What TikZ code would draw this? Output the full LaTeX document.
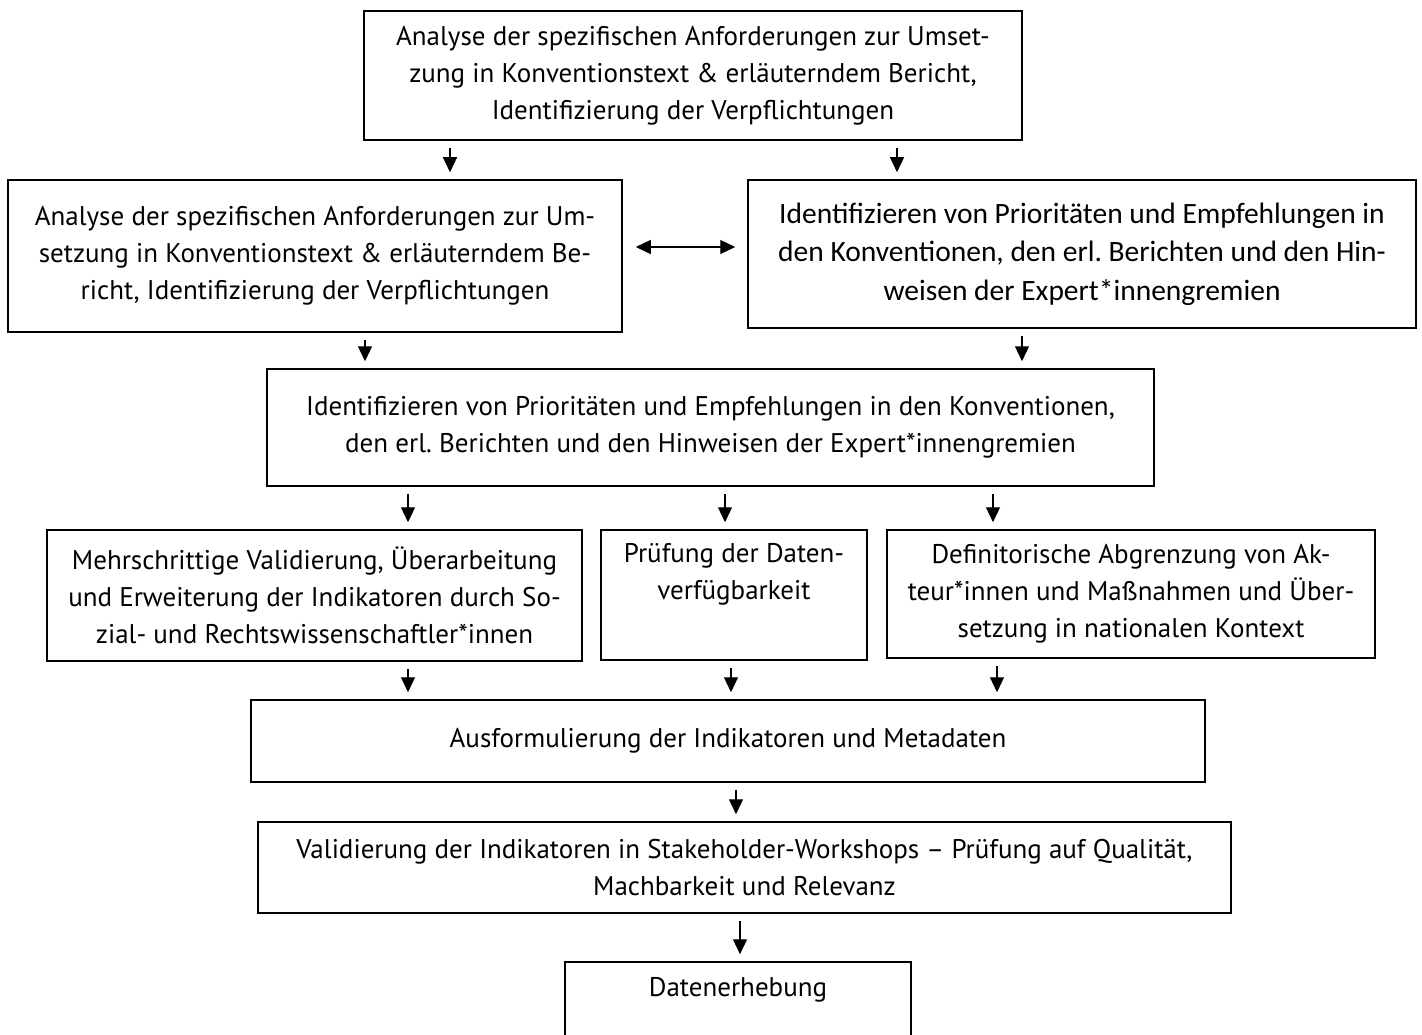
\documentclass[tikz,border=0pt]{standalone}
\usepackage{fontspec}
\setmainfont{PT Sans}
\newfontfamily\Cf{Carlito}
\frenchspacing
\usetikzlibrary{arrows.meta}
\usetikzlibrary{positioning}
\tikzset{box/.style={draw, line width=1.5pt, align=center, inner sep=0pt, font=\fontsize{27}{37}\selectfont},
	arr/.style={-{Triangle[length=15pt,width=14pt]}, line width=1.2pt, shorten <=7pt, shorten >=7pt}}

\begin{document}
\begin{tikzpicture}[x=1pt, y=-1pt]
	\clip (0,0) rectangle (1422,1035);
	\node (A) [box, minimum width=658pt, minimum height=129pt] at (693,75.5)
		{Analyse der spezifischen Anforderungen zur Umset-\\zung in Konventionstext \& erläuterndem Bericht,\\Identifizierung der Verpflichtungen};
	\node (B) [box, minimum width=614pt, minimum height=152pt] at (315,256)
		{Analyse der spezifischen Anforderungen zur Um-\\setzung in Konventionstext \& erläuterndem Be-\\richt, Identifizierung der Verpflichtungen};
	\node (C) [box, minimum width=668pt, minimum height=148pt, font=\Cf\fontsize{29.5}{38.5}\selectfont] at (1082,254)
		{Identifizieren von Prioritäten und Empfehlungen in\\den Konventionen, den erl. Berichten und den Hin-\\weisen der Expert*innengremien};
	\node (D) [box, minimum width=887pt, minimum height=117pt] at (710.5,427.5)
		{Identifizieren von Prioritäten und Empfehlungen in den Konventionen,\\den erl. Berichten und den Hinweisen der Expert*innengremien};
	\node (E) [box, minimum width=535pt, minimum height=131pt] at (314.5,595.5)
		{Mehrschrittige Validierung, Überarbeitung\\und Erweiterung der Indikatoren durch So-\\zial- und Rechtswissenschaftler*innen};
	\node (F) [box, minimum width=266pt, minimum height=130pt] at (734,595)
		{Prüfung der Daten-\\verfügbarkeit\\\strut};
	\node (G) [box, minimum width=488pt, minimum height=128pt] at (1131,594)
		{Definitorische Abgrenzung von Ak-\\teur*innen und Maßnahmen und Über-\\setzung in nationalen Kontext};
	\node (H) [box, minimum width=954pt, minimum height=82pt] at (728,741)
		{Ausformulierung der Indikatoren und Metadaten};
	\node (I) [box, minimum width=973pt, minimum height=91pt] at (744.5,867.5)
		{Validierung der Indikatoren in Stakeholder-Workshops – Prüfung auf Qualität,\\Machbarkeit und Relevanz};
	\node (J) [box, minimum width=346pt, minimum height=98pt] at (738,1011)
		{Datenerhebung\\\strut};
	%
	\draw[arr]	(A.south -| 450,0)	-- (B.north -| 450,0);
	\draw[arr]	(A.south -| 897,0)	-- (C.north -| 897,0);
	\draw[arr, {Triangle[length=15pt,width=14pt]}-{Triangle[length=15pt,width=14pt]}, shorten <=13pt, shorten >=12pt]
				(B.east |- 0,247)	-- (C.west |- 0,247);
	\draw[arr]	(B.south -| 365,0)	-- (D.north -| 365,0);
	\draw[arr]	(C.south -| 1022,0)	-- (D.north -| 1022,0);
	\draw[arr]	(D.south -| 408,0)	-- (E.north -| 408,0);
	\draw[arr]	(D.south -| 725,0)	-- (F.north -| 725,0);
	\draw[arr]	(D.south -| 993,0)	-- (G.north -| 993,0);
	\draw[arr]	(E.south -| 408,0)	-- (H.north -| 408,0);
	\draw[arr]	(F.south -| 731,0)	-- (H.north -| 731,0);
	\draw[arr]	(G.south -| 997,0)	-- (H.north -| 997,0);
	\draw[arr]	(H.south -| 736,0)	-- (I.north -| 736,0);
	\draw[arr]	(I.south -| 740,0)	-- (J.north -| 740,0);
\end{tikzpicture}
\end{document}
